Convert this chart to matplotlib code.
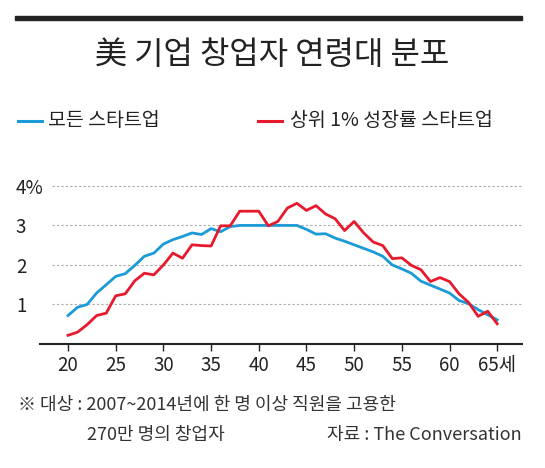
import matplotlib
matplotlib.use("Agg")
import matplotlib.pyplot as plt
from matplotlib.lines import Line2D

plt.rcParams['font.family'] = ['Noto Sans CJK KR', 'DejaVu Sans']

ages = list(range(20, 66))
all_startups = [0.72,0.93,1.0,1.29,1.5,1.71,1.78,1.99,2.22,2.3,2.53,2.64,2.72,2.81,2.77,2.92,2.84,2.97,
                3.0,3.0,3.0,3.0,3.0,3.0,3.0,2.9,2.78,2.79,2.68,2.6,2.51,2.42,2.33,2.22,2.0,1.9,1.79,
                1.59,1.49,1.39,1.29,1.1,1.02,0.87,0.74,0.61]
top1_startups = [0.22,0.3,0.49,0.72,0.78,1.22,1.27,1.6,1.79,1.75,2.0,2.3,2.17,2.51,2.49,2.48,2.99,2.99,
                 3.36,3.36,3.36,2.99,3.1,3.44,3.56,3.38,3.5,3.29,3.17,2.87,3.1,2.81,2.58,2.49,2.16,2.18,
                 1.99,1.88,1.58,1.68,1.58,1.27,1.05,0.7,0.83,0.51]
xticks = [20,25,30,35,40,45,50,55,60,65]
xlabels = ['20','25','30','35','40','45','50','55','60','65세']
yticks = [1,2,3,4]
ylabels = ['1','2','3','4%']

blue = '#1a9ad6'
red = '#e8192c'
W, H = 545, 468
fig = plt.figure(figsize=(W/100, H/100), dpi=100)
fig.patches.append(plt.Rectangle((15/W, 1-20/H), 507/W, 4/H, transform=fig.transFigure, color='#222222'))
fig.text(0.5, 1-55/H, '美 기업 창업자 연령대 분포', ha='center', va='center', fontsize=23, color='#222222')
fig.add_artist(Line2D([18/W, 42/W], [1-121/H]*2, color=blue, lw=2.2, transform=fig.transFigure))
fig.text(48/W, 1-121/H, '모든 스타트업', va='center', fontsize=14, color='#222222')
fig.add_artist(Line2D([258/W, 282/W], [1-121/H]*2, color=red, lw=2.2, transform=fig.transFigure))
fig.text(290/W, 1-121/H, '상위 1% 성장률 스타트업', va='center', fontsize=14, color='#222222')

ax = fig.add_axes([40/W, 1-344/H, 482/W, 166/H])
for y in yticks:
    ax.plot([18.3, 67.6], [y, y], ls=(0, (2, 2)), color='#aaaaaa', lw=0.8, zorder=1)
ax.plot(ages, all_startups, color=blue, lw=2, zorder=3)
ax.plot(ages, top1_startups, color=red, lw=2, zorder=4)
ax.set_xlim(17.06, 67.6)
ax.set_ylim(0, 4.2)
for s in ['top', 'right', 'left']:
    ax.spines[s].set_visible(False)
ax.spines['bottom'].set_linewidth(1.5)
ax.spines['bottom'].set_color('#222222')
ax.set_xticks(xticks)
ax.set_xticklabels(xlabels, fontsize=13.5, color='#222222')
ax.tick_params(axis='x', length=5, width=1, color='#222222', pad=3)
ax.set_yticks(yticks)
ax.set_yticklabels(ylabels, fontsize=13.5, color='#222222')
ax.tick_params(axis='y', length=0, pad=0)
for lab in ax.get_yticklabels():
    lab.set_ha('left')
    lab.set_transform(ax.get_yaxis_transform())
    lab.set_position((-0.05, lab.get_position()[1]))

fig.text(18/W, 1-405/H, '※ 대상 : 2007~2014년에 한 명 이상 직원을 고용한', va='center', fontsize=13, color='#333333')
fig.text(87/W, 1-435/H, '270만 명의 창업자', va='center', fontsize=13, color='#333333')
fig.text(522/W, 1-435/H, '자료 : The Conversation', va='center', ha='right', fontsize=13, color='#333333')
fig.savefig('out.png', dpi=100)
